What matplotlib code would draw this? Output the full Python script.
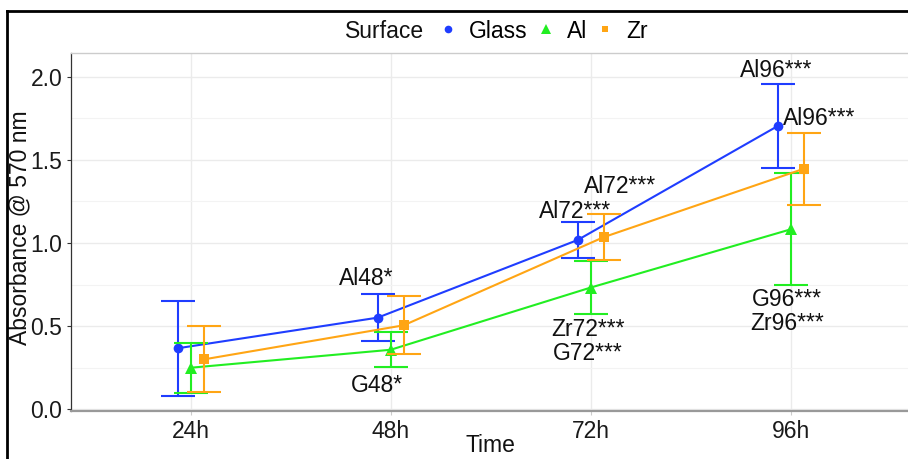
import matplotlib
matplotlib.use("Agg")
import matplotlib.pyplot as plt
from matplotlib.lines import Line2D
import numpy as np

plt.rcParams["font.family"] = ["Liberation Sans", "DejaVu Sans"]

# Absorbance at 570 nm, mean and standard deviation per surface and time point
times = ["24h", "48h", "72h", "96h"]
glass_mean = [0.367, 0.551, 1.018, 1.703]
glass_sd = [0.285, 0.140, 0.110, 0.255]
al_mean = [0.250, 0.358, 0.732, 1.082]
al_sd = [0.150, 0.104, 0.162, 0.337]
zr_mean = [0.300, 0.505, 1.035, 1.446]
zr_sd = [0.198, 0.175, 0.137, 0.216]

surfaces = ["Glass", "Al", "Zr"]
colors = {"Glass": "#1f3dff", "Al": "#22ee22", "Zr": "#ffa514"}
markers = {"Glass": "o", "Al": "^", "Zr": "s"}
msizes = {"Glass": 7, "Al": 8, "Zr": 6.5}
dodge = {"Glass": -0.065, "Al": 0.0, "Zr": 0.065}
means = {"Glass": glass_mean, "Al": al_mean, "Zr": zr_mean}
sds = {"Glass": glass_sd, "Al": al_sd, "Zr": zr_sd}

# Significance annotations: text, x (category units), y (baseline of last line)
sig_text = ["Al48*", "G48*", "Al72***", "Al72***", "Zr72***\nG72***",
            "Al96***", "Al96***", "G96***\nZr96***"]
sig_x = [1.878, 1.929, 2.9215, 3.1465, 2.9865, 3.9265, 4.143, 3.98]
sig_y = [0.747, 0.106, 1.150, 1.299, 0.296, 2.000, 1.709, 0.477]

W, H = 908, 459
fig = plt.figure(figsize=(W / 100, H / 100), dpi=100)

left_px, right_px, top_px, bottom_px = 70.7, 910.7, 52.7, 411.3
ax = fig.add_axes([left_px / W, 1 - bottom_px / H,
                   (right_px - left_px) / W, (bottom_px - top_px) / H])

x = np.arange(1, len(times) + 1)
for s in surfaces:
    xs = x + dodge[s]
    ax.errorbar(xs, means[s], yerr=sds[s], fmt="none", ecolor=colors[s],
                capsize=12, capthick=1.5, elinewidth=1.5, zorder=3)
    ax.plot(xs, means[s], color=colors[s], lw=1.5, marker=markers[s],
            markersize=msizes[s], markeredgewidth=0, zorder=3)

for t, tx, ty in zip(sig_text, sig_x, sig_y):
    ax.text(tx, ty, t, ha="center", va="baseline", fontsize=16.5,
            color="#111111", linespacing=1.05, zorder=4)

ax.set_xlim(0.4, 4.6)
ax.set_ylim(-0.012, 2.144)
ax.set_xticks(x)
ax.set_xticklabels(times)
ax.set_yticks([0.0, 0.5, 1.0, 1.5, 2.0])
ax.set_yticklabels(["0.0", "0.5", "1.0", "1.5", "2.0"])
ax.set_yticks([0.25, 0.75, 1.25, 1.75], minor=True)

ax.grid(True, which="major", color="#ebebeb", lw=1.0, zorder=0)
ax.grid(True, which="minor", axis="y", color="#f3f3f3", lw=0.8, zorder=0)
ax.set_axisbelow(True)

ax.tick_params(axis="both", which="major", labelsize=16.5, labelcolor="#1a1a1a",
               length=3, width=0.8, color="#333333", pad=3)
ax.tick_params(axis="y", which="minor", length=0)
ax.tick_params(axis="x", which="major", color="#cccccc")

for side in ["top", "right"]:
    ax.spines[side].set_color("#cccccc")
    ax.spines[side].set_linewidth(1.0)
ax.spines["left"].set_color("#333333")
ax.spines["left"].set_linewidth(0.9)
ax.spines["bottom"].set_color("#999999")
ax.spines["bottom"].set_linewidth(1.6)

panel_h = bottom_px - top_px
ax.set_xlabel("Time", fontsize=16.5, color="#111111", va="center")
ax.xaxis.set_label_coords(0.5 + (490 - 490.7) / 840, (bottom_px - 446) / panel_h)
ax.set_ylabel("Absorbance @ 570 nm", fontsize=16.5, color="#111111", va="center")
ax.yaxis.set_label_coords((20 - left_px) / (right_px - left_px),
                          (bottom_px - 227.5) / panel_h)

# Legend across the top with its title inline
fig.text(345 / W, 1 - 31 / H, "Surface", fontsize=16.5, va="center",
         ha="left", color="#111111")
handles = [Line2D([], [], linestyle="none", marker=markers[s],
                  markersize=msizes[s] - 1.5, color=colors[s],
                  markeredgewidth=0) for s in surfaces]
fig.legend(handles, surfaces, loc="center left",
           bbox_to_anchor=(437 / W, 1 - 31 / H), ncol=3, frameon=False,
           fontsize=16.5, handlelength=1.0, handletextpad=0.4,
           columnspacing=0.3, borderaxespad=0, borderpad=0)

# Outer frame (top and left edges)
fig.add_artist(Line2D([7 / W, 1.0], [1 - 11 / H, 1 - 11 / H],
                      color="black", lw=2.0, transform=fig.transFigure))
fig.add_artist(Line2D([7 / W, 7 / W], [0.0, 1 - 11 / H],
                      color="black", lw=2.0, transform=fig.transFigure))

fig.savefig("out.png", dpi=100)
